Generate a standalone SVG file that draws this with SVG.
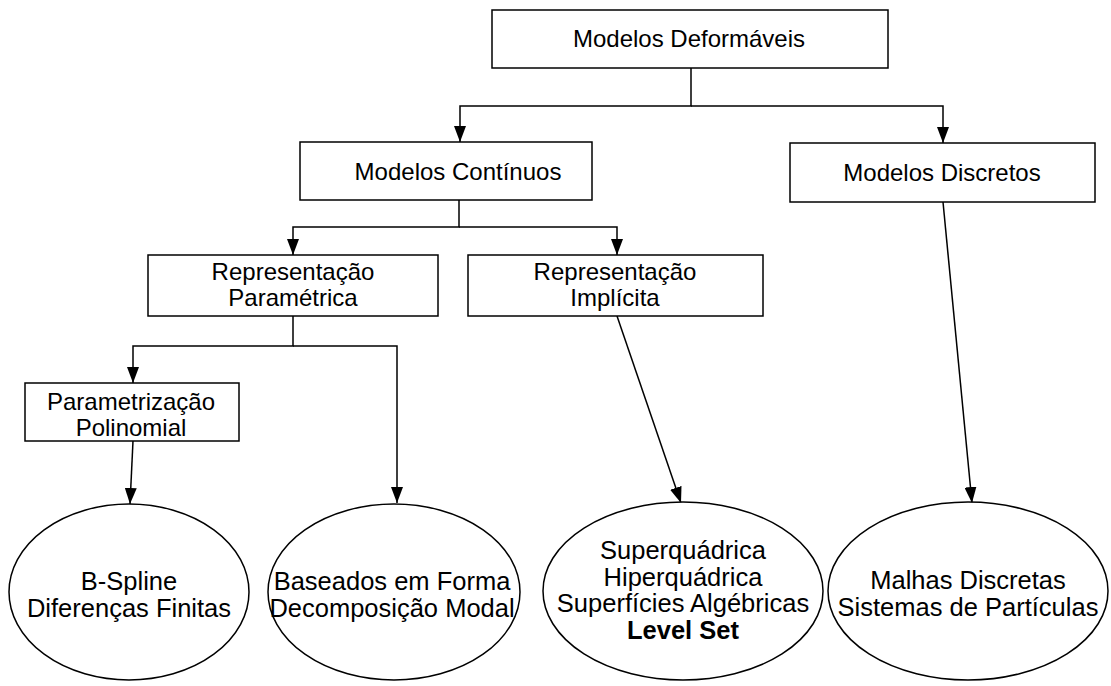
<svg xmlns="http://www.w3.org/2000/svg" width="1111" height="686" viewBox="0 0 1111 686">
<style>
.box{fill:#fff;stroke:#000;stroke-width:1.5}
.ell{fill:#fff;stroke:#000;stroke-width:1.5}
.t{font-family:"Liberation Sans",Arial,sans-serif;font-size:24px;fill:#000;text-anchor:middle}
.te{font-family:"Liberation Sans",Arial,sans-serif;font-size:25.5px;fill:#000;text-anchor:middle}
.c{fill:none;stroke:#000;stroke-width:1.5}
</style>
<defs>
<marker id="arr" viewBox="0 0 16 12" refX="16" refY="6" markerWidth="16" markerHeight="12" orient="auto" markerUnits="userSpaceOnUse">
<path d="M0,0 L16,6 L0,12 z" fill="#000"/>
</marker>
</defs>
<rect width="1111" height="686" fill="#fff"/>
<g id="connectors">
<polyline class="c" points="691,68 691,106 460,106 460,142" marker-end="url(#arr)"/>
<polyline class="c" points="691,106 943,106 943,143" marker-end="url(#arr)"/>
<polyline class="c" points="459,200 459,227 293,227 293,255" marker-end="url(#arr)"/>
<polyline class="c" points="459,227 617,227 617,255" marker-end="url(#arr)"/>
<polyline class="c" points="293,316 293,346 133,346 133,383" marker-end="url(#arr)"/>
<polyline class="c" points="293,346 397,346 397,503" marker-end="url(#arr)"/>
<line class="c" x1="133" y1="441" x2="130" y2="504" marker-end="url(#arr)"/>
<line class="c" x1="617" y1="316" x2="681" y2="503" marker-end="url(#arr)"/>
<line class="c" x1="943" y1="202" x2="972" y2="503" marker-end="url(#arr)"/>
</g>
<g id="n-deformaveis">
<rect class="box" x="492" y="10" width="396" height="58"/>
<text class="t" x="689" y="47">Modelos Deformáveis</text>
</g>
<g id="n-continuos">
<rect class="box" x="300" y="142" width="292" height="58"/>
<text class="t" x="458" y="180">Modelos Contínuos</text>
</g>
<g id="n-discretos">
<rect class="box" x="790" y="143" width="305" height="59"/>
<text class="t" x="942" y="181">Modelos Discretos</text>
</g>
<g id="n-parametrica">
<rect class="box" x="148" y="255" width="290" height="61"/>
<text class="t" x="293" y="280">Representação</text>
<text class="t" x="293" y="306">Paramétrica</text>
</g>
<g id="n-implicita">
<rect class="box" x="468" y="255" width="295" height="61"/>
<text class="t" x="615" y="280">Representação</text>
<text class="t" x="615" y="306">Implícita</text>
</g>
<g id="n-polinomial">
<rect class="box" x="25" y="383" width="214" height="58"/>
<text class="t" x="131" y="410">Parametrização</text>
<text class="t" x="131" y="436">Polinomial</text>
</g>
<g id="n-bspline">
<ellipse class="ell" cx="129" cy="592" rx="120" ry="88"/>
<text class="te" x="129" y="590">B-Spline</text>
<text class="te" x="129" y="617">Diferenças Finitas</text>
</g>
<g id="n-forma">
<ellipse class="ell" cx="394" cy="592" rx="126" ry="88"/>
<text class="te" x="392" y="590">Baseados em Forma</text>
<text class="te" x="392" y="617">Decomposição Modal</text>
</g>
<g id="n-super">
<ellipse class="ell" cx="683" cy="591" rx="140" ry="89"/>
<text class="te" x="683" y="559">Superquádrica</text>
<text class="te" x="683" y="586">Hiperquádrica</text>
<text class="te" x="683" y="612">Superfícies Algébricas</text>
<text class="te" x="683" y="639" font-weight="bold">Level Set</text>
</g>
<g id="n-malhas">
<ellipse class="ell" cx="968" cy="591" rx="140" ry="89"/>
<text class="te" x="968" y="589">Malhas Discretas</text>
<text class="te" x="968" y="616">Sistemas de Partículas</text>
</g>
</svg>
